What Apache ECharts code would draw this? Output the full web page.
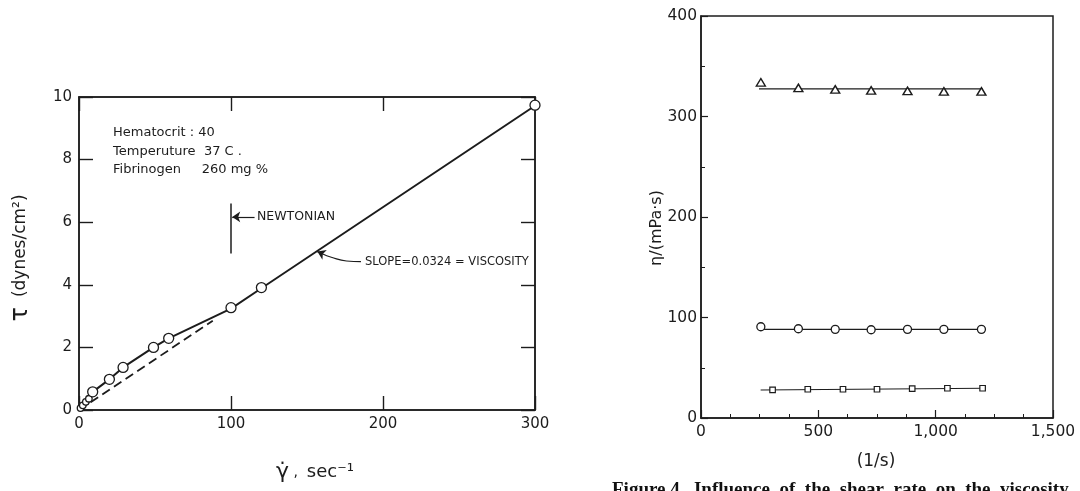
<!DOCTYPE html>
<html>
<head>
<meta charset="utf-8">
<script src="https://cdn.jsdelivr.net/npm/echarts@6/dist/echarts.min.js"></script>
<style>
  html, body { margin: 0; padding: 0; background: #fff; }
  #chart { width: 1080px; height: 491px; }
</style>
</head>
<body>
<div id="chart"></div>
<script>
// ---- Left panel: shear stress vs shear rate (whole blood) ----
const shearRate   = [1, 2.5, 4.5, 6.5, 9, 20, 29, 49, 59, 100, 120, 300];
const shearStress = [0.06, 0.15, 0.26, 0.36, 0.58, 0.98, 1.36, 2.0, 2.29, 3.27, 3.91, 9.74];
// drawn flow curve through the measurements
const curveRate   = [0, 1, 2.5, 4.5, 6.5, 9, 20, 29, 49, 59, 100, 120, 300];
const curveStress = [0, 0.06, 0.15, 0.26, 0.36, 0.58, 0.98, 1.36, 2.0, 2.29, 3.24, 3.89, 9.72];
// Newtonian extrapolation to the origin (slope 0.0324)
const newtonRate   = [0, 88];
const newtonStress = [0, 2.85];
// "NEWTONIAN" marker bar and its arrow
const newtonBarRate   = [100, 100];
const newtonBarStress = [5.0, 6.6];
const newtonArrowRate   = [115.5, 100.8];
const newtonArrowStress = [6.17, 6.17];
// curved leader from the slope label to the line, and its arrow tip
const slopeLeaderRate   = [185.5, 176, 166, 160];
const slopeLeaderStress = [4.74, 4.76, 4.88, 4.99];
const slopeTipRate   = [160, 156.8];
const slopeTipStress = [4.99, 5.06];
const leftXTicks = ['0', '100', '200', '300'];
const leftYTicks = ['0', '2', '4', '6', '8', '10'];

// ---- Right panel: viscosity vs shear rate ----
const rateA    = [255, 415, 572, 725, 880, 1035, 1195];
const viscTri  = [334, 328.5, 327, 326, 325.5, 325, 325];
const viscCirc = [90.8, 88.8, 88.2, 87.8, 88.2, 88.2, 88.2];
const rateB    = [305, 455, 605, 750, 900, 1050, 1200];
const viscSq   = [27.9, 28.6, 28.6, 28.6, 29.2, 29.6, 29.6];
// fitted lines
const fitTriRate  = [247, 1200];  const fitTri  = [327.5, 327.5];
const fitCircRate = [258, 1202];  const fitCirc = [88.2, 88.2];
const fitSqRate   = [254, 1210];  const fitSq   = [27.8, 29.6];
const rightXTicks = ['0', '500', '1,000', '1,500'];
const rightYTicks = ['0', '100', '200', '300', '400'];

const zip = (xs, ys) => xs.map((x, i) => [x, ys[i]]);
const INK = '#1c1c1c';
const TICK_FONT = 'DejaVu Sans';

const chart = echarts.init(document.getElementById('chart'), null, { renderer: 'canvas' });

function tickAxis(extra) {
  return Object.assign({
    axisLine: { show: true, onZero: false, lineStyle: { color: INK, width: 1.5 } },
    axisTick: { show: true, inside: true, lineStyle: { color: INK, width: 1.4 } },
    splitLine: { show: false },
    axisLabel: { color: INK, fontFamily: TICK_FONT, fontSize: 15 }
  }, extra);
}

function arrowSeries(xs, ys) {
  return {
    type: 'line', xAxisIndex: 0, yAxisIndex: 0, data: [], silent: true,
    markLine: {
      silent: true, animation: false, label: { show: false },
      symbol: ['none', 'arrow'], symbolSize: 8,
      lineStyle: { color: INK, width: 1.2, type: 'solid' },
      data: [[ { coord: [xs[0], ys[0]] }, { coord: [xs[1], ys[1]] } ]]
    }
  };
}

const option = {
  animation: false,
  backgroundColor: '#fff',
  grid: [
    { left: 79, top: 97, width: 456, height: 313, show: true, borderColor: INK, borderWidth: 1.5 },
    { left: 701, top: 16, width: 352, height: 402, show: true, borderColor: INK, borderWidth: 1.5 }
  ],
  xAxis: [
    tickAxis({ gridIndex: 0, type: 'value', min: 0, max: 300, interval: 100,
      axisTick: { show: true, inside: true, length: 14, lineStyle: { color: INK, width: 1.4 } },
      axisLabel: { color: INK, fontFamily: TICK_FONT, fontSize: 15, margin: 7,
        formatter: v => leftXTicks[Math.round(v / 100)] } }),
    tickAxis({ gridIndex: 0, type: 'value', position: 'top', min: 0, max: 300, interval: 100,
      axisTick: { show: true, inside: true, length: 14, lineStyle: { color: INK, width: 1.4 } },
      axisLabel: { show: false } }),
    tickAxis({ gridIndex: 1, type: 'value', min: 0, max: 1500, interval: 500,
      axisTick: { show: true, inside: true, length: 8, lineStyle: { color: INK, width: 1.2 } },
      minorTick: { show: true, splitNumber: 4, length: 4, lineStyle: { color: INK, width: 1 } },
      axisLabel: { color: INK, fontFamily: TICK_FONT, fontSize: 15.5, margin: 6,
        formatter: v => rightXTicks[Math.round(v / 500)] } })
  ],
  yAxis: [
    tickAxis({ gridIndex: 0, type: 'value', min: 0, max: 10, interval: 2,
      axisTick: { show: true, inside: true, length: 14, lineStyle: { color: INK, width: 1.4 } },
      axisLabel: { color: INK, fontFamily: TICK_FONT, fontSize: 15, margin: 7,
        formatter: v => leftYTicks[Math.round(v / 2)] } }),
    tickAxis({ gridIndex: 0, type: 'value', position: 'right', min: 0, max: 10, interval: 2,
      axisTick: { show: true, inside: true, length: 14, lineStyle: { color: INK, width: 1.4 } },
      axisLabel: { show: false } }),
    tickAxis({ gridIndex: 1, type: 'value', min: 0, max: 400, interval: 100,
      axisTick: { show: true, inside: true, length: 7, lineStyle: { color: INK, width: 1.2 } },
      minorTick: { show: true, splitNumber: 2, length: 4, lineStyle: { color: INK, width: 1 } },
      axisLabel: { color: INK, fontFamily: TICK_FONT, fontSize: 15.5, margin: 4,
        formatter: v => rightYTicks[Math.round(v / 100)] } })
  ],
  series: [
    // flow curve
    { type: 'line', xAxisIndex: 0, yAxisIndex: 0, data: zip(curveRate, curveStress),
      showSymbol: false, smooth: false,
      lineStyle: { color: INK, width: 2 }, z: 3 },
    // Newtonian extrapolation
    { type: 'line', xAxisIndex: 0, yAxisIndex: 0, data: zip(newtonRate, newtonStress),
      showSymbol: false, lineStyle: { color: INK, width: 1.8, type: [9, 5] }, z: 2 },
    // measured points
    { type: 'scatter', xAxisIndex: 0, yAxisIndex: 0, data: zip(shearRate, shearStress),
      symbol: 'circle', symbolSize: d => (d[0] < 8 ? 6.5 : 10),
      itemStyle: { color: '#fff', borderColor: INK, borderWidth: 1.3, opacity: 1 }, z: 5 },
    // NEWTONIAN marker bar
    { type: 'line', xAxisIndex: 0, yAxisIndex: 0, data: zip(newtonBarRate, newtonBarStress),
      showSymbol: false, lineStyle: { color: INK, width: 1.5 } },
    // arrow to the NEWTONIAN bar
    arrowSeries(newtonArrowRate, newtonArrowStress),
    // curved leader to the sloped line
    { type: 'line', xAxisIndex: 0, yAxisIndex: 0, data: zip(slopeLeaderRate, slopeLeaderStress),
      showSymbol: false, smooth: 0.5, lineStyle: { color: INK, width: 1.2 } },
    arrowSeries(slopeTipRate, slopeTipStress),

    // right panel fitted lines
    { type: 'line', xAxisIndex: 2, yAxisIndex: 2, data: zip(fitTriRate, fitTri),
      showSymbol: false, lineStyle: { color: INK, width: 1.3 } },
    { type: 'line', xAxisIndex: 2, yAxisIndex: 2, data: zip(fitCircRate, fitCirc),
      showSymbol: false, lineStyle: { color: INK, width: 1.1 } },
    { type: 'line', xAxisIndex: 2, yAxisIndex: 2, data: zip(fitSqRate, fitSq),
      showSymbol: false, lineStyle: { color: INK, width: 1.1 } },
    // right panel measurements
    { type: 'scatter', xAxisIndex: 2, yAxisIndex: 2, data: zip(rateA, viscTri),
      symbol: 'triangle', symbolSize: [9, 7.5],
      itemStyle: { color: '#fff', borderColor: INK, borderWidth: 1.4, opacity: 1 }, z: 5 },
    { type: 'scatter', xAxisIndex: 2, yAxisIndex: 2, data: zip(rateA, viscCirc),
      symbol: 'circle', symbolSize: 8,
      itemStyle: { color: '#fff', borderColor: INK, borderWidth: 1.3, opacity: 1 }, z: 5 },
    { type: 'scatter', xAxisIndex: 2, yAxisIndex: 2, data: zip(rateB, viscSq),
      symbol: 'rect', symbolSize: 5.5,
      itemStyle: { color: '#fff', borderColor: INK, borderWidth: 1.2, opacity: 1 }, z: 5 }
  ],
  graphic: [
    // sample conditions
    { type: 'text', x: 113, y: 133, style: { text: 'Hematocrit : 40', fill: INK,
      fontFamily: 'DejaVu Sans', fontSize: 13, verticalAlign: 'middle' } },
    { type: 'text', x: 113, y: 152, style: { text: 'Temperuture  37 C .', fill: INK,
      fontFamily: 'DejaVu Sans', fontSize: 13, verticalAlign: 'middle' } },
    { type: 'text', x: 113, y: 170, style: { text: 'Fibrinogen     260 mg %', fill: INK,
      fontFamily: 'DejaVu Sans', fontSize: 13, verticalAlign: 'middle' } },
    { type: 'text', x: 257, y: 217, style: { text: 'NEWTONIAN', fill: INK,
      fontFamily: 'DejaVu Sans', fontSize: 12.5, verticalAlign: 'middle' } },
    { type: 'text', x: 365, y: 262, style: { text: 'SLOPE=0.0324 = VISCOSITY', fill: INK,
      fontFamily: 'DejaVu Sans', fontSize: 11.5, verticalAlign: 'middle' } },
    // axis titles, left panel
    { type: 'text', x: 21, y: 258, rotation: Math.PI / 2,
      style: { text: '{t|τ}   {u|(dynes/cm²)}', align: 'center', verticalAlign: 'middle', fill: INK,
        rich: { t: { fontFamily: 'DejaVu Sans', fontSize: 24, fill: INK },
                u: { fontFamily: 'DejaVu Sans', fontSize: 17, fill: INK } } } },
    { type: 'text', x: 276, y: 472,
      style: { text: '{g|γ̇}{c| ,  }{s|sec⁻¹}', verticalAlign: 'middle', fill: INK,
        rich: { g: { fontFamily: 'DejaVu Sans', fontSize: 22, fill: INK },
                c: { fontFamily: 'DejaVu Sans', fontSize: 14, fill: INK },
                s: { fontFamily: 'DejaVu Sans', fontSize: 18, fill: INK } } } },
    // axis titles, right panel
    { type: 'text', x: 657, y: 228, rotation: Math.PI / 2,
      style: { text: 'η/(mPa·s)', align: 'center', verticalAlign: 'middle', fill: INK,
        fontFamily: 'DejaVu Sans', fontSize: 16 } },
    { type: 'text', x: 876, y: 462,
      style: { text: '(1/s)', align: 'center', verticalAlign: 'middle', fill: INK,
        fontFamily: 'DejaVu Sans', fontSize: 17 } },
    // figure caption (runs off the bottom edge)
    { type: 'text', x: 612, y: 481,
      style: { text: 'Figure 4.  Influence  of  the  shear  rate  on  the  viscosity', fill: '#111',
        fontFamily: 'Liberation Serif', fontWeight: 'bold', fontSize: 19, verticalAlign: 'top' } }
  ]
};

chart.setOption(option);
</script>
</body>
</html>
